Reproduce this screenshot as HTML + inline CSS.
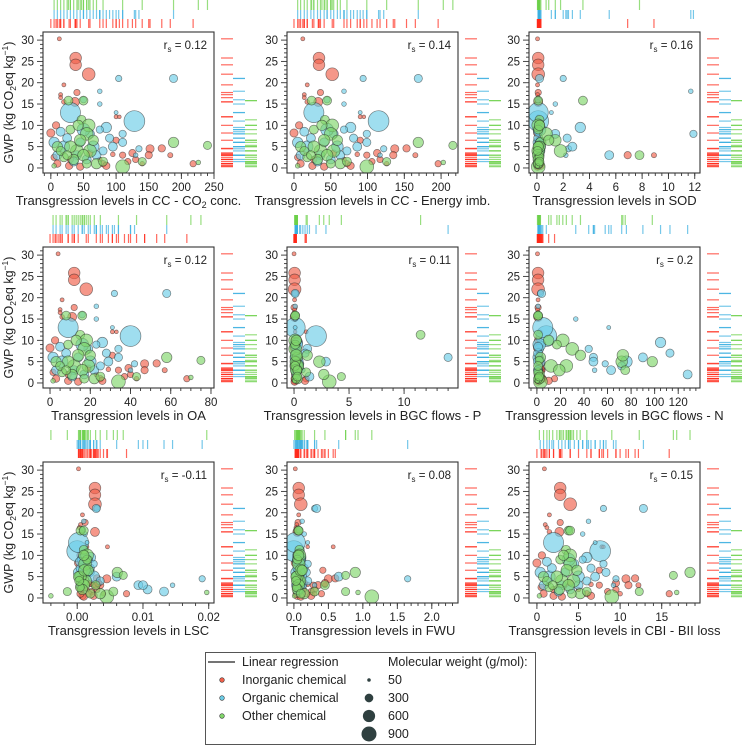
<!DOCTYPE html>
<html><head><meta charset="utf-8">
<style>
html,body{margin:0;padding:0;background:#fff;}
svg{display:block;font-family:"Liberation Sans",Arial,sans-serif;}
</style></head>
<body>
<svg id="chart" width="742" height="748" viewBox="0 0 742 748" xmlns="http://www.w3.org/2000/svg"></svg>
<script>
// ---- data: per chemical ----
const chemClass = [0,0,0,0,0,0,0,0,0,0,0,0,0,0,0,0,0,0,0,0,0,0,0,0,0,0,0,0,0,0,0,0,0,0,0,
1,1,1,1,1,1,1,1,1,1,1,1,1,1,1,1,1,1,1,1,1,1,1,1,1,1,1,1,1,1,
2,2,2,2,2,2,2,2,2,2,2,2,2,2,2,2,2,2,2,2,2,2,2,2,2,2,2];
const gwpValues = [30.3,25.8,24.2,22,19.5,17.7,17.2,16.5,15.5,15.5,10,8.2,12,12,6.5,4.5,3,4.6,3,1,2,1.5,3,3.2,0.5,0.3,1,2,2.5,1,3.5,2,0.5,3.5,1,
11,13,21,21,18,16,15,13,9.5,9,8,6,5,3,2,3,7,8,6,4.5,3,5,5,9,7,3,1.5,8.5,4,6,
6,5.3,1.3,0.3,1.5,15.8,15.8,11.3,10,8,4,4,5,5,3,6.5,2,2.5,1,1,4,6.5,3,0.5,9,1.5,10];
const molWeight = [60,500,500,600,60,150,60,60,300,80,200,250,60,50,150,250,200,200,100,150,150,150,150,80,200,200,150,80,150,200,150,150,200,200,80,
1600,1500,150,250,80,150,80,60,400,200,300,400,500,300,300,300,250,200,250,150,80,300,500,600,300,300,300,300,250,300,
400,250,80,700,250,300,300,300,600,600,600,600,500,400,500,500,400,300,400,300,300,400,300,80,300,300,400];
const xCO2 = [13,38,38,58,20,40,15,15,37,20,8,0,100,105,100,152,150,170,183,218,130,118,110,95,28,45,80,75,5,10,60,30,85,125,140,
128,30,104,188,75,50,75,100,85,75,60,5,20,40,55,10,90,110,110,135,130,95,65,50,25,70,35,15,80,45,
188,240,226,110,140,27,50,47,58,55,40,60,30,10,50,45,35,20,70,55,15,65,25,5,30,80,42];
const xEnergy = [12,34,34,52,18,36,14,14,33,18,7,0,90,95,90,137,135,153,165,196,117,106,99,86,25,41,72,68,5,9,54,27,77,113,126,
115,27,94,169,68,45,68,90,77,68,54,5,18,36,50,9,81,99,99,122,117,86,59,45,23,63,32,14,72,41,
169,216,203,99,126,24,45,42,52,50,36,54,27,9,45,41,32,18,63,50,14,59,23,5,27,72,38];
const xSOD = [0.05,0.1,0.1,0.1,0.05,0.1,0.05,0.1,0.1,0.05,0.1,0.05,0.1,0.15,0.2,0.3,6.9,0.2,8.9,0.3,0.2,0.15,0.25,0.1,0.1,0.05,0.2,0.1,0.1,0.05,0.2,0.1,0.3,0.2,0.15,
0.1,0.1,2,0.2,11.7,0.1,1.4,1.1,3.3,0.2,1.4,0.1,0.2,5.5,0.1,0.1,2.3,11.9,0.3,2.4,2.2,2.7,0.2,0.2,0.1,0.2,0.1,0.1,0.3,0.2,
0.3,0.2,0.1,0.1,0.2,0.1,3.5,0.2,0.1,0.7,1.8,0.1,0.2,0.1,0.1,1.4,0.1,0.2,0.1,0.1,0.05,0.9,7.8,0.05,0.1,0.2,0.2];
const xOA = [4,12,12,18,6,12,5,5,11,6,2.5,0,31,33,31,47,47,53,57,68,40,37,34,29,9,14,25,23,1.5,3,19,9,26,39,43,
40,9,32,58,23,16,23,31,26,23,19,1.5,6,12,17,3,28,34,34,42,40,29,20,16,8,22,11,5,25,14,
58,75,70,34,43,8,16,15,18,17,12,19,9,3,16,14,11,6,22,17,5,20,8,1.5,9,25,13];
const xP = [0,0.05,0.05,0.05,0.05,0,0.05,0,0.05,0,0.05,0,1.1,0.1,0.1,0.2,0.1,0.2,0.15,0.1,0.2,0.1,0.1,0.15,0.1,0.05,1.1,0.1,0.05,0.05,0.1,0.05,1,0.2,0.1,
2,0.1,0.1,0.1,0.1,0.1,0.1,0.1,0.3,0.2,1.2,0.1,0.2,0.3,0.2,0.1,1,0.3,14,0.6,0.8,2.9,0.3,0.2,0.1,0.3,1.4,0.1,0.5,0.2,
0.3,0.2,0.1,3.2,4.3,0.1,0.1,11.5,0.1,0.1,0.2,0.3,2.3,0.1,0.2,0.2,2.7,1.1,0.3,0.2,0.1,1.2,0.3,0.05,0.1,0.3,0.2];
const xN = [0.5,1,1,1,1,1,0.5,1,1,0.5,1,0.5,2,3,2,3,4,2,3,5,3,2,4,3,2,1,15,3,1,5,2,2,10,3,4,
8,5,3,4,1,1,33,61,105,3,2,1,2,1,128,1,113,44,48,58,49,48,76,2,1,63,2,1,72,90,
3,2,1,3,2,1,1,1,22,30,12,25,72,98,19,73,2,1,2,1,1,37,75,0.5,17,2,10];
const xLSC = [0.0002,0.0027,0.0027,0.0027,0.0008,0.0012,0.0005,0.0003,0.0027,0.0006,0.0005,0.0002,0.0046,0.0015,0.002,0.0045,0.0035,0.003,0.0025,0.0075,0.003,0.0022,0.0028,0.002,0.0008,0.001,0.0018,0.0015,0.0003,0.0005,0.002,0.0007,0.0025,0.0032,0.004,
0,0.0002,0.003,0.0029,0.001,0.0008,0.0012,0.0015,0.002,0.0018,0.0012,0.0002,0.0005,0.0093,0.0107,0.0005,0.002,0.0025,0.002,0.019,0.0145,0.006,0.0025,0.001,0.0005,0.01,0.0132,0.0004,0.0035,0.0015,
0.0061,0.007,0.0197,0.0045,-0.0015,0.0005,0.001,0.001,0.0015,0.0012,0.0008,0.0012,0.0005,0.0002,0.001,0.0011,0.0008,0.0004,0.0035,0.002,0.0003,0.0017,0.0028,-0.004,0.0015,0.0055,0.001];
const xFWU = [0.02,0.07,0.07,0.1,0.07,0.06,0.04,0.03,0.05,0.05,0.03,0.02,0.57,0.2,0.42,0.5,0.35,0.6,0.45,0.4,0.3,0.25,0.28,0.2,0.05,0.1,0.18,0.15,0.02,0.04,0.15,0.06,0.25,0.45,0.3,
0,0.02,0.3,0.33,0.12,0.08,0.15,0.2,0.1,0.12,0.1,0.03,0.05,0.1,0.08,0.03,0.15,0.2,0.18,1.65,0.3,0.65,0.1,0.07,0.05,0.12,0.06,0.04,0.2,0.1,
0.89,0.75,0.93,1.13,0.75,0.06,0.07,0.08,0.08,0.07,0.06,0.08,0.05,0.03,0.07,0.1,0.05,0.04,0.15,0.1,0.03,0.12,0.45,0.01,0.05,0.3,0.07];
const xCBI = [0.9,2.8,2.8,4,1.5,2.8,1,1.2,2.7,1.5,0.6,0,7.8,8,7.5,10.7,11,11.8,12.2,15.9,9.5,8.5,7.5,6.5,2,3,6,5,0.5,0.8,4,2,6.5,9.5,10,
7.6,2,8,12.8,6.2,3.8,5.5,7,6,5.5,4.5,0.4,1.5,3,4,0.8,6.5,8,8.3,9.5,9.2,7,5,3.8,1.8,5,2.6,1.2,6,3.4,
18.4,16.4,16.8,9,12.3,3.8,4,3.5,4,4,3,4.4,2.4,0.8,3.8,3.6,2.7,1.5,5.2,4.2,1.2,4.8,1.9,0.3,2.8,6,3.2];
const panelTitles = ["CC - CO2 conc.","CC - Energy imb.","SOD","OA","BGC flows - P","BGC flows - N","LSC","FWU","CBI - BII loss"];
const rsValues = ["0.12","0.14","0.16","0.12","0.11","0.2","-0.11","0.08","0.15"];
const yTicks = [0,5,10,15,20,25,30];
const xTickSets = [[0,50,100,150,200,250],[0,50,100,150,200],[0,2,4,6,8,10,12],[0,20,40,60,80],[0,5,10],[0,20,40,60,80,100,120],[0,0.01,0.02],[0,0.5,1,1.5,2],[0,5,10,15]];
const xTickLabels = [["0","50","100","150","200","250"],["0","50","100","150","200"],["0","2","4","6","8","10","12"],["0","20","40","60","80"],["0","5","10"],["0","20","40","60","80","100","120"],["0.00","0.01","0.02"],["0.0","0.5","1.0","1.5","2.0"],["0","5","10","15"]];
const xMinorStep = [10,10,0.5,5,1,5,0.002,0.1,1];
const xDomains = [[-12,250],[-9.5,223],[-0.6,12.4],[-3.5,81.5],[-0.64,14.9],[-6.7,138.5],[-0.0052,0.0208],[-0.1,2.38],[-0.95,19.6]];
const xSeries = [xCO2,xEnergy,xSOD,xOA,xP,xN,xLSC,xFWU,xCBI];

const NS="http://www.w3.org/2000/svg";
const svg=document.getElementById('chart');
function mk(tag,attrs,parent){const e=document.createElementNS(NS,tag);for(const k in attrs)e.setAttribute(k,attrs[k]);(parent||svg).appendChild(e);return e;}
const fills=["#f0604a","#6ccce6","#80d66a"];
const rugCols=["#ff2a1a","#3aafe0","#6cd04a"];
const classNames=["inorganic","organic","other"];
const colLeft=[43,287,529], rowTop=[32,247,462], BW=171, BH=141;
const yDom=[-1.18,31.9];
const rad=m=>Math.sqrt(m)*0.26;

for(let p=0;p<9;p++){
  const L=colLeft[p%3], T=rowTop[Math.floor(p/3)], R=L+BW, B=T+BH;
  const xd=xDomains[p];
  const xs=v=>L+(v-xd[0])/(xd[1]-xd[0])*BW;
  const ys=v=>B-(v-yDom[0])/(yDom[1]-yDom[0])*BH;
  const g=mk('g',{});
  
  
  const xs_=xSeries[p];
  // top rugs: red nearest box, blue middle, green top
  const rugOff=[[-13,-4],[-22,-13],[-32,-22]];
  for(let c=0;c<3;c++){
    const rg=mk('g',{},g);
    
    
    for(let i=0;i<xs_.length;i++){ if(chemClass[i]!==c)continue;
      const x=xs(xs_[i]); if(x<L||x>R)continue;
      const ln=mk('line',{x1:x,x2:x,y1:T+rugOff[c][0],y2:T+rugOff[c][1],stroke:rugCols[c],'stroke-width':1.2,'stroke-opacity':0.7},rg);
      
      
    }
  }
  // right rugs: red, blue, green from left
  for(let c=0;c<3;c++){
    const rg=mk('g',{},g);
    
    
    for(let i=0;i<gwpValues.length;i++){ if(chemClass[i]!==c)continue;
      const y=ys(gwpValues[i]);
      const ln=mk('line',{x1:R+7+12*c,x2:R+19+12*c,y1:y,y2:y,stroke:rugCols[c],'stroke-width':1.2,'stroke-opacity':0.7},rg);
      
      
    }
  }
  const cp=mk('clipPath',{id:'cp'+p},g); mk('rect',{x:L,y:T,width:BW,height:BH},cp);
  const pts=mk('g',{'clip-path':'url(#cp'+p+')'},g);
  
  
  for(let c=0;c<3;c++) for(let i=0;i<xs_.length;i++){ if(chemClass[i]!==c)continue;
    const ci=mk('circle',{cx:xs(xs_[i]),cy:ys(gwpValues[i]),r:rad(molWeight[i]),fill:fills[c],'fill-opacity':0.65,stroke:'#222','stroke-opacity':0.55,'stroke-width':0.7},pts);
    
    
  }
  const box=mk('rect',{x:L,y:T,width:BW,height:BH,fill:'none',stroke:'#333','stroke-width':1.1},g);
  
  
  const ya=mk('g',{},g);
  
  
  for(let v=0;v<=31;v++){const y=ys(v);const maj=v%5===0;
    mk('line',{x1:L-(maj?6:3),x2:L,y1:y,y2:y,stroke:'#333','stroke-width':0.9},ya);}
  yTicks.forEach(v=>{const t=mk('text',{x:L-9,y:ys(v)+4,'text-anchor':'end','font-size':11.5,fill:'#222'},ya);t.textContent=v;});
  const xa=mk('g',{},g);
  
  
  const st=xMinorStep[p];
  for(let k=Math.ceil(xd[0]/st);k*st<=xd[1];k++){const x=xs(k*st);mk('line',{x1:x,x2:x,y1:B,y2:B+3,stroke:'#333','stroke-width':0.9},xa);}
  xTickSets[p].forEach((v,j)=>{const x=xs(v);mk('line',{x1:x,x2:x,y1:B,y2:B+6,stroke:'#333','stroke-width':0.9},xa);
    const t=mk('text',{x:x,y:B+18,'text-anchor':'middle','font-size':11.5,fill:'#222'},xa);t.textContent=xTickLabels[p][j];});
  const tt=mk('text',{x:L+BW/2,y:B+32,'text-anchor':'middle','font-size':13,fill:'#222'},g);
  
  
  if(p===0){tt.innerHTML='Transgression levels in CC - CO<tspan font-size="9" dy="3">2</tspan><tspan dy="-3"> conc.</tspan>';}
  else tt.textContent='Transgression levels in '+panelTitles[p];
  const rs=mk('text',{x:R-7,y:T+17,'text-anchor':'end','font-size':11.5,fill:'#222'},g);
  
  
  rs.innerHTML='r<tspan font-size="8" dy="3">s</tspan><tspan dy="-3"> = '+rsValues[p]+'</tspan>';
  if(p%3===0){
    const yt=mk('text',{x:0,y:0,transform:'translate(13,'+(T+BH/2)+') rotate(-90)','text-anchor':'middle','font-size':12.5,fill:'#222'},g);
    
    
    yt.innerHTML='GWP (kg CO<tspan font-size="8.5" dy="3">2</tspan><tspan dy="-3">eq kg</tspan><tspan font-size="8.5" dy="-5">−1</tspan><tspan dy="5">)</tspan>';
  }
}

// legend
const lg=mk('g',{});


mk('rect',{x:205.5,y:652.5,width:330,height:92,fill:'#fff',stroke:'#555','stroke-width':1},lg);
const ll=mk('line',{x1:208,x2:235,y1:662,y2:662,stroke:'#222','stroke-width':1.2},lg);


const lab=(x,y,s)=>{const t=mk('text',{x:x,y:y,'font-size':12.5,fill:'#222'},lg);t.textContent=s;return t;};
lab(242,666,'Linear regression');
["Inorganic chemical","Organic chemical","Other chemical"].forEach((s,i)=>{
  const c=mk('circle',{cx:222,cy:680+i*18,r:2.3,fill:fills[i],stroke:'#333','stroke-width':0.6},lg);
  
  
  lab(242,684+i*18,s);
});
lab(388,666,'Molecular weight (g/mol):');
[50,300,600,900].forEach((m,i)=>{
  const c=mk('circle',{cx:369,cy:680+i*18,r:Math.sqrt(m)*0.25,fill:'#2f4040'},lg);
  
  
  lab(388,684+i*18,String(m));
});
</script>
</body></html>
